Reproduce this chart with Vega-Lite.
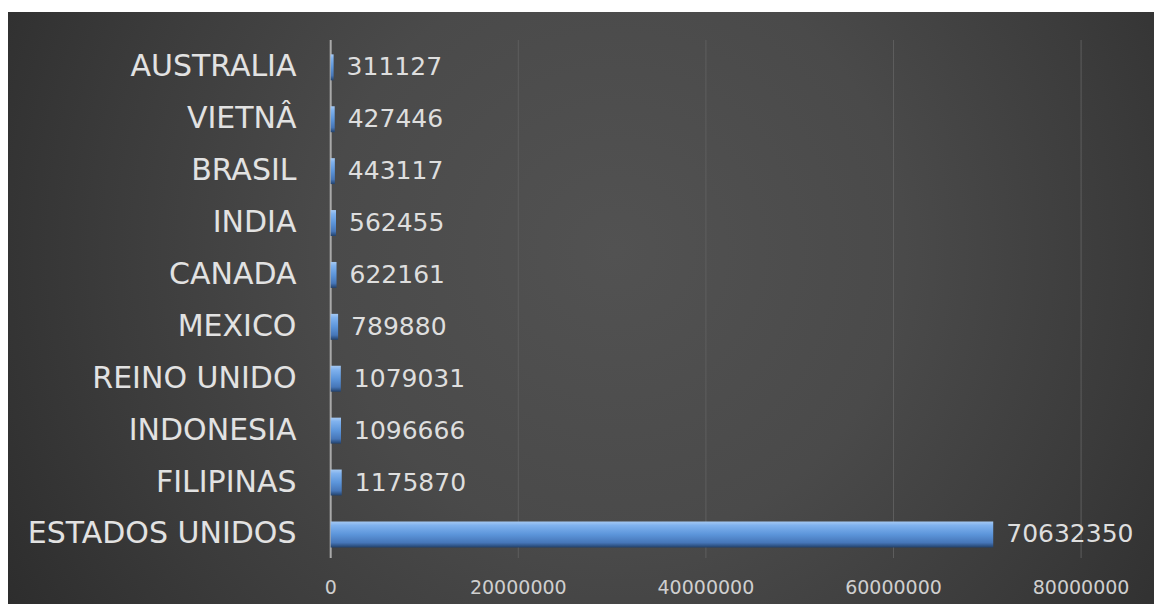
{
  "$schema": "https://vega.github.io/schema/vega-lite/v6.json",
  "width": 1154,
  "height": 604,
  "autosize": {"type": "fit", "contains": "padding"},
  "padding": {"left": 8, "top": 12, "right": 0, "bottom": 0},
  "background": "#ffffff",
  "view": {
    "stroke": null,
    "fill": {
      "gradient": "radial",
      "x1": 0.53, "y1": 0.45, "r1": 0,
      "x2": 0.53, "y2": 0.45, "r2": 0.72,
      "stops": [
        {"offset": 0, "color": "#525252"},
        {"offset": 0.35, "color": "#4a4a4a"},
        {"offset": 0.62, "color": "#3b3b3b"},
        {"offset": 0.87, "color": "#2c2c2c"},
        {"offset": 1, "color": "#272727"}
      ]
    }
  },
  "datasets": {
    "countries": [
      {"country": "AUSTRALIA", "value": 311127},
      {"country": "VIETNÂ", "value": 427446},
      {"country": "BRASIL", "value": 443117},
      {"country": "INDIA", "value": 562455},
      {"country": "CANADA", "value": 622161},
      {"country": "MEXICO", "value": 789880},
      {"country": "REINO UNIDO", "value": 1079031},
      {"country": "INDONESIA", "value": 1096666},
      {"country": "FILIPINAS", "value": 1175870},
      {"country": "ESTADOS UNIDOS", "value": 70632350}
    ],
    "grid": [{"v": 20000000}, {"v": 40000000}, {"v": 60000000}, {"v": 80000000}],
    "zero": [{"v": 0}],
    "ticks": [{"v": 0}, {"v": 20000000}, {"v": 40000000}, {"v": 60000000}, {"v": 80000000}]
  },
  "resolve": {"scale": {"y": "independent"}},
  "layer": [
    {
      "data": {"name": "grid"},
      "mark": {"type": "rule", "color": "#5e5e5e", "strokeWidth": 1},
      "encoding": {
        "x": {
          "field": "v", "type": "quantitative",
          "scale": {"domain": [-34403000, 87773000], "nice": false, "zero": false},
          "axis": null
        },
        "y": {"datum": 0, "type": "quantitative", "scale": {"domain": [-0.0888, 1.05405], "nice": false, "zero": false}, "axis": null},
        "y2": {"datum": 1}
      }
    },
    {
      "data": {"name": "zero"},
      "mark": {"type": "rule", "color": "#a9a9a9", "strokeWidth": 2},
      "encoding": {
        "x": {
          "field": "v", "type": "quantitative",
          "scale": {"domain": [-34403000, 87773000], "nice": false, "zero": false},
          "axis": null
        },
        "y": {"datum": 0, "type": "quantitative", "scale": {"domain": [-0.0888, 1.05405], "nice": false, "zero": false}, "axis": null},
        "y2": {"datum": 1}
      }
    },
    {
      "data": {"name": "ticks"},
      "mark": {
        "type": "text", "align": "center", "baseline": "middle",
        "font": "DejaVu Sans", "fontSize": 19, "color": "#cfcfcf"
      },
      "encoding": {
        "x": {
          "field": "v", "type": "quantitative",
          "scale": {"domain": [-34403000, 87773000], "nice": false, "zero": false},
          "axis": null
        },
        "y": {"datum": -0.058, "type": "quantitative", "scale": {"domain": [-0.0888, 1.05405], "nice": false, "zero": false}, "axis": null},
        "text": {"field": "v", "type": "quantitative", "format": "d"}
      }
    },
    {
      "data": {"name": "countries"},
      "encoding": {
        "y": {
          "field": "country", "type": "nominal", "sort": null,
          "scale": {"paddingInner": 0.5, "paddingOuter": 0.9533, "align": 0.428},
          "axis": {
            "orient": "left", "offset": -323,
            "domain": false, "ticks": false, "grid": false,
            "labelPadding": 35, "labelLimit": 500,
            "labelFont": "DejaVu Sans", "labelFontSize": 30,
            "labelColor": "#e2e2e2", "title": null
          }
        },
        "x": {
          "field": "value", "type": "quantitative",
          "scale": {"domain": [-34403000, 87773000], "nice": false, "zero": false},
          "axis": null
        }
      },
      "layer": [
        {
          "mark": {
            "type": "bar",
            "color": {
              "gradient": "linear",
              "x1": 0, "y1": 0, "x2": 0, "y2": 1,
              "stops": [
                {"offset": 0, "color": "#a6c9f2"},
                {"offset": 0.15, "color": "#80b2ee"},
                {"offset": 0.5, "color": "#5c95da"},
                {"offset": 0.82, "color": "#4676b8"},
                {"offset": 1, "color": "#22416b"}
              ]
            }
          }
        },
        {
          "mark": {
            "type": "text", "align": "left", "baseline": "middle", "dx": 13,
            "font": "DejaVu Sans", "fontSize": 25, "color": "#dedede"
          },
          "encoding": {
            "text": {"field": "value", "type": "quantitative", "format": "d"}
          }
        }
      ]
    }
  ]
}
